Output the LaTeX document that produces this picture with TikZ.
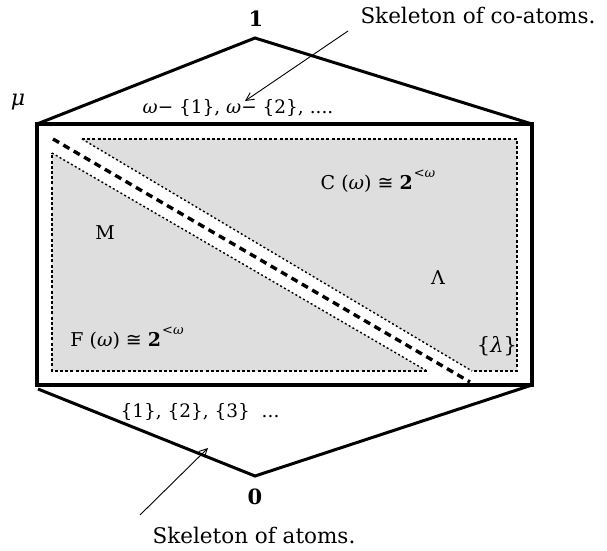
\documentclass[tikz,border=0pt]{standalone}
\usepackage{fontspec}
\setmainfont{DejaVu Serif}
\newfontfamily\symfnt{DejaVu Sans}
\usetikzlibrary{arrows.meta}
\definecolor{fillgray}{RGB}{222,222,222}
\tikzset{
  frame/.style={line width=3.2pt, line join=miter},
  hexline/.style={line width=3pt},
  dotrect/.style={line width=1.6pt, dash pattern=on 3pt off 2.2pt},
  bandline/.style={line width=1.4pt, dash pattern=on 2pt off 2.4pt},
  bigdash/.style={line width=3.4pt, dash pattern=on 7pt off 5pt},
  pointer/.style={line width=0.9pt, -{Straight Barb[length=8pt,width=8pt,line width=0.9pt]}},
  inner/.style={font=\fontsize{19}{22}\selectfont, inner sep=0pt},
  small/.style={font=\fontsize{18.5}{22}\selectfont, inner sep=0pt},
  big/.style={font=\fontsize{21.5}{25}\selectfont, inner sep=0pt},
  bold/.style={font=\fontsize{21}{25}\selectfont\bfseries, inner sep=0pt}
}
\newcommand{\twoom}{\textbf{2}\kern1pt\raisebox{0.62em}{\fontsize{13}{15}\selectfont <\textit{ω}}}
\begin{document}
\begin{tikzpicture}[x=1pt,y=-1pt]
\useasboundingbox (0,0) rectangle (607,550);
% gray regions
\fill[fillgray] (82,139) -- (517,139) -- (517,371) -- (472,371) -- cycle;
\fill[fillgray] (52,153) -- (427,371) -- (52,371) -- cycle;
% dotted borders
\draw[dotrect] (82,139) -- (517,139) -- (517,371) -- (472,371);
\draw[dotrect] (427,371) -- (52,371) -- (52,153);
\draw[bandline] (82,139) -- (472,371);
\draw[bandline] (52,153) -- (427,371);
\draw[bigdash] (53,139) -- (470,382);
% frame
\coordinate (tl) at (37,124);
\coordinate (tr) at (532,124);
\coordinate (br) at (532,385);
\coordinate (bl) at (37,385);
\coordinate (top) at (255,38);
\coordinate (bot) at (255,476);
\coordinate (bll) at (38,389);
\draw[frame] (tl) rectangle (br);
\draw[hexline] (tl) -- (top) -- (tr);
\draw[hexline] (bll) -- (bot) -- (br);
% labels
\node[bold] (one) at (256,19) {1};
\node[bold] (zero) at (255,497) {0};
\node[inner, font=\fontsize{22}{26}\selectfont] (mu) at (18,102) {\textit{μ}};
\node[small] (coat) at (238,108) {\textit{ω}− \{1\}, \textit{ω}− \{2\}, ....};
\node[inner] (C) at (378,181) {C (\textit{ω}) {\symfnt ≅} \twoom};
\node[inner] (M) at (105,233) {M};
\node[inner] (L) at (438,278) {Λ};
\node[inner] (F) at (127,338) {F (\textit{ω}) {\symfnt ≅} \twoom};
\node[inner, font=\fontsize{21}{24}\selectfont] (lam) at (497,346) {\{\textit{λ}\}};
\node[small] (at) at (200,412) {\{1\}, \{2\}, \{3\}\ \ ...};
\node[big] (sco) at (478,15) {Skeleton of co-atoms.};
\node[big] (sat) at (254,535) {Skeleton of atoms.};
% pointers
\coordinate (cotail) at (348,31);
\coordinate (cohead) at (245,101);
\coordinate (attail) at (140,515);
\coordinate (athead) at (208,448);
\draw[pointer] (cotail) -- (cohead);
\draw[pointer] (attail) -- (athead);
\end{tikzpicture}
\end{document}
